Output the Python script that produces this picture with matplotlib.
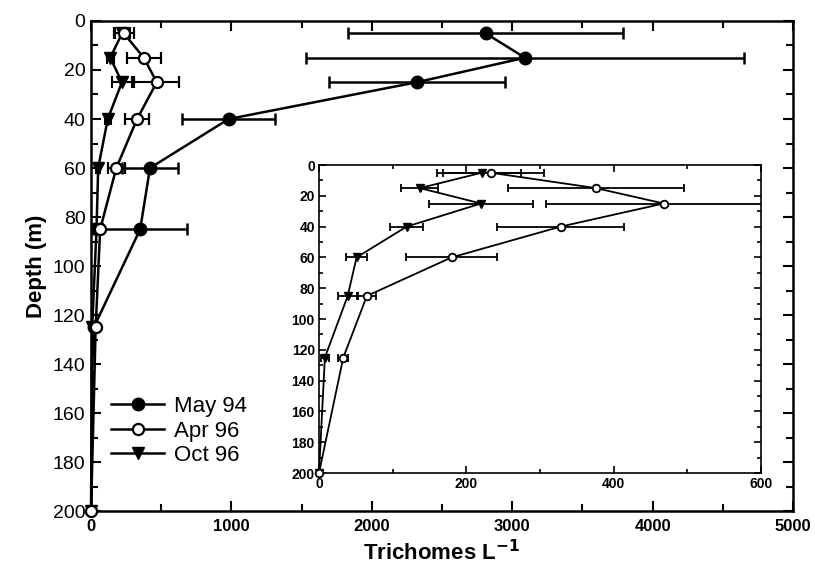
import numpy as np
import matplotlib.pyplot as plt
from matplotlib.ticker import MultipleLocator

# depth profiles of trichome abundance
may_depth = [5, 15, 25, 40, 60, 85, 125, 145]
may_val = [2810, 3090, 2320, 980, 420, 350, 20, 5]
may_err = [980, 1560, 625, 330, 200, 335, 10, 0]

apr_depth = [5, 15, 25, 40, 60, 85, 125, 200]
apr_val = [233, 376, 468, 328, 180, 65, 33, 0]
apr_err = [73, 120, 160, 86, 62, 12, 7, 0]

oct_depth = [5, 15, 25, 40, 60, 85, 125, 200]
oct_val = [221, 137, 220, 119, 51, 39, 8, 0]
oct_err = [53, 25, 71, 22, 14, 13, 5, 0]

plt.rcParams['font.family'] = ['Liberation Sans', 'DejaVu Sans']

fig = plt.figure(figsize=(8.15, 5.69), dpi=100)
ax = fig.add_axes([0.1117, 0.1019, 0.8614, 0.8612])

# main panel
h_may = ax.errorbar(may_val, may_depth, xerr=may_err, color='black', lw=1.8,
                    marker='o', ms=9, mfc='black', mec='black',
                    markevery=slice(0, len(may_val) - 1),
                    capsize=4, capthick=1.8, elinewidth=1.8, zorder=3)
h_oct = ax.errorbar(oct_val, oct_depth, xerr=oct_err, color='black', lw=1.8,
                    marker='v', ms=8, mfc='black', mec='black',
                    capsize=4, capthick=1.5, elinewidth=1.5, zorder=4)
h_apr = ax.errorbar(apr_val, apr_depth, xerr=apr_err, color='black', lw=1.8,
                    marker='o', ms=8, mfc='white', mec='black', mew=1.6,
                    capsize=4, capthick=1.5, elinewidth=1.5, zorder=5)
for h in (h_may, h_oct, h_apr):
    h[0].set_clip_on(False)

ax.set_xlim(0, 5000)
ax.set_ylim(200, 0)
ax.xaxis.set_major_locator(MultipleLocator(1000))
ax.xaxis.set_minor_locator(MultipleLocator(500))
ax.yaxis.set_major_locator(MultipleLocator(20))
ax.yaxis.set_minor_locator(MultipleLocator(10))
ax.tick_params(which='both', direction='in', top=True, right=True, width=1.5)
ax.tick_params(which='major', length=7)
ax.tick_params(which='minor', length=5)
ax.tick_params(axis='x', labelsize=12, pad=6)
ax.tick_params(axis='y', labelsize=14, pad=4)
for lab in ax.get_xticklabels():
    lab.set_fontweight('bold')
for sp in ax.spines.values():
    sp.set_linewidth(1.8)

ax.set_xlabel('Trichomes L$^{\\mathbf{-1}}$', fontsize=16, fontweight='bold', labelpad=4)
ax.set_ylabel('Depth (m)', fontsize=16, fontweight='bold', labelpad=4)

ax.legend([h_may[0], h_apr[0], h_oct[0]], ['May 94', 'Apr 96', 'Oct 96'],
          loc='upper left', bbox_to_anchor=(0.0, 0.275), frameon=False,
          fontsize=16, handlelength=2.4, handletextpad=0.45, labelspacing=0.15)

# inset: Apr and Oct only
ins = fig.add_axes([0.3914, 0.1687, 0.5423, 0.5413])
i_oct = ins.errorbar(oct_val, oct_depth, xerr=oct_err, color='black', lw=1.3,
                     marker='v', ms=5.5, mfc='black', mec='black',
                     capsize=3, capthick=1.3, elinewidth=1.3, zorder=4)
i_apr = ins.errorbar(apr_val, apr_depth, xerr=apr_err, color='black', lw=1.3,
                     marker='o', ms=5.5, mfc='white', mec='black', mew=1.3,
                     capsize=3, capthick=1.3, elinewidth=1.3, zorder=5)
for h in (i_oct, i_apr):
    h[0].set_clip_on(False)
ins.set_xlim(0, 600)
ins.set_ylim(200, 0)
ins.xaxis.set_major_locator(MultipleLocator(200))
ins.xaxis.set_minor_locator(MultipleLocator(100))
ins.yaxis.set_major_locator(MultipleLocator(20))
ins.yaxis.set_minor_locator(MultipleLocator(10))
ins.tick_params(which='both', direction='in', top=True, right=True, width=1.2,
                labelsize=10, pad=3)
ins.tick_params(which='major', length=5)
ins.tick_params(which='minor', length=3)
for lab in ins.get_xticklabels() + ins.get_yticklabels():
    lab.set_fontweight('bold')
for sp in ins.spines.values():
    sp.set_linewidth(1.2)

fig.savefig('out.png', dpi=100)
